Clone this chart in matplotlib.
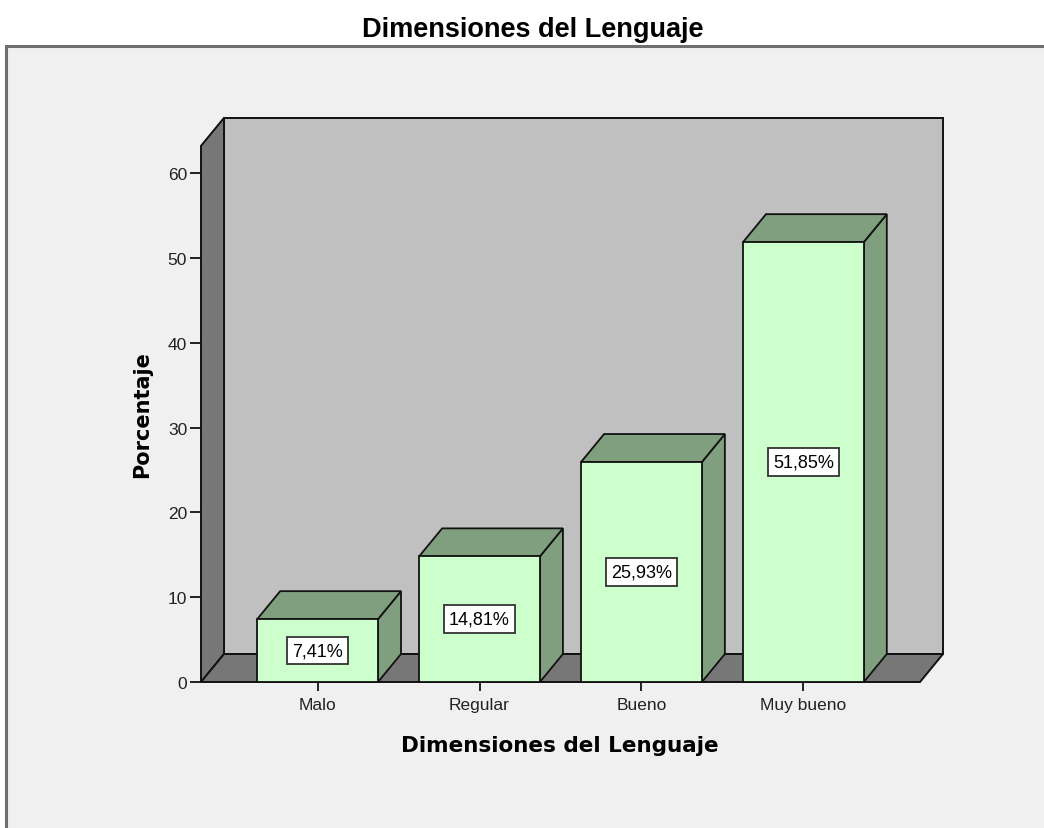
import matplotlib
matplotlib.use('Agg')
import matplotlib.pyplot as plt
from matplotlib.patches import Polygon, Rectangle

categories = ['Malo', 'Regular', 'Bueno', 'Muy bueno']
percent = [7.41, 14.81, 25.93, 51.85]
yticks = [0, 10, 20, 30, 40, 50, 60]

W, H = 1044, 829
fig = plt.figure(figsize=(W / 100, H / 100), dpi=100)
fig.patch.set_facecolor('white')

# outer chart frame
frame = Rectangle((6 / W, -0.2), 1.2, 1.2 - 47 / H, transform=fig.transFigure,
                  facecolor='#f0f0f0', edgecolor='#6e6e6e', lw=2.2, zorder=-5)
fig.patches.append(frame)

# axes placed so that value 0 sits at y=683px and the front edge runs 201..920px
ymax = 63.2
ax = fig.add_axes([201 / W, (H - 683) / H, 719 / W, ymax * 8.483 / H])
x0, x1 = -0.72, 3.72
ax.set_xlim(x0, x1)
ax.set_ylim(0, ymax)
ax.patch.set_visible(False)
for s in ax.spines.values():
    s.set_visible(False)

DX, DY = 0.142, 3.3  # depth offset (data units)
ec = '#111111'

wall = '#c0c0c0'
side = '#777777'
ax.add_patch(Polygon([(x0 + DX, DY), (x1 + DX, DY), (x1 + DX, ymax + DY), (x0 + DX, ymax + DY)],
                     closed=True, fc=wall, ec=ec, lw=1.4, clip_on=False, zorder=1))
ax.add_patch(Polygon([(x0, 0), (x0, ymax), (x0 + DX, ymax + DY), (x0 + DX, DY)],
                     closed=True, fc=side, ec=ec, lw=1.4, clip_on=False, zorder=2))
ax.add_patch(Polygon([(x0, 0), (x1, 0), (x1 + DX, DY), (x0 + DX, DY)],
                     closed=True, fc=side, ec=ec, lw=1.4, clip_on=False, zorder=2))

front = '#ccffcc'
shade = '#7f9f7f'
hw = 0.373
for i, v in enumerate(percent):
    xl, xr = i - hw, i + hw
    ax.add_patch(Polygon([(xr, 0), (xr, v), (xr + DX, v + DY), (xr + DX, DY)],
                         closed=True, fc=shade, ec=ec, lw=1.3, clip_on=False, zorder=3))
    ax.add_patch(Polygon([(xl, v), (xr, v), (xr + DX, v + DY), (xl + DX, v + DY)],
                         closed=True, fc=shade, ec=ec, lw=1.3, clip_on=False, zorder=3))
    ax.add_patch(Rectangle((xl, 0), xr - xl, v, fc=front, ec=ec, lw=1.3,
                           clip_on=False, zorder=4))
    ax.text(i, v / 2, f'{v:.2f}%'.replace('.', ','), ha='center', va='center',
            family='Liberation Sans', fontsize=13, zorder=6,
            bbox=dict(boxstyle='square,pad=0.3', fc='white', ec='#333333', lw=1.3))

ax.set_yticks(yticks)
ax.set_xticks(range(len(categories)))
ax.set_xticklabels(categories)
ax.tick_params(axis='y', length=8, width=1.3, color='#111111', pad=2,
               labelsize=12.5, labelcolor='#222222')
ax.tick_params(axis='x', length=6.5, width=1.3, color='#111111', pad=4,
               labelsize=12.5, labelcolor='#222222')
for lab in ax.get_xticklabels() + ax.get_yticklabels():
    lab.set_family('Liberation Sans')

fig.text(533 / W, 1 - 30 / H, 'Dimensiones del Lenguaje', ha='center', va='center',
         family='Liberation Sans', fontweight='bold', fontsize=19.5)
fig.text(560 / W, 1 - 746 / H, 'Dimensiones del Lenguaje', ha='center', va='center',
         family='DejaVu Sans', fontweight='bold', fontsize=15.5)
fig.text(142 / W, 1 - 415 / H, 'Porcentaje', ha='center', va='center', rotation=90,
         family='DejaVu Sans', fontweight='bold', fontsize=15)

fig.savefig('out.png', dpi=100)
